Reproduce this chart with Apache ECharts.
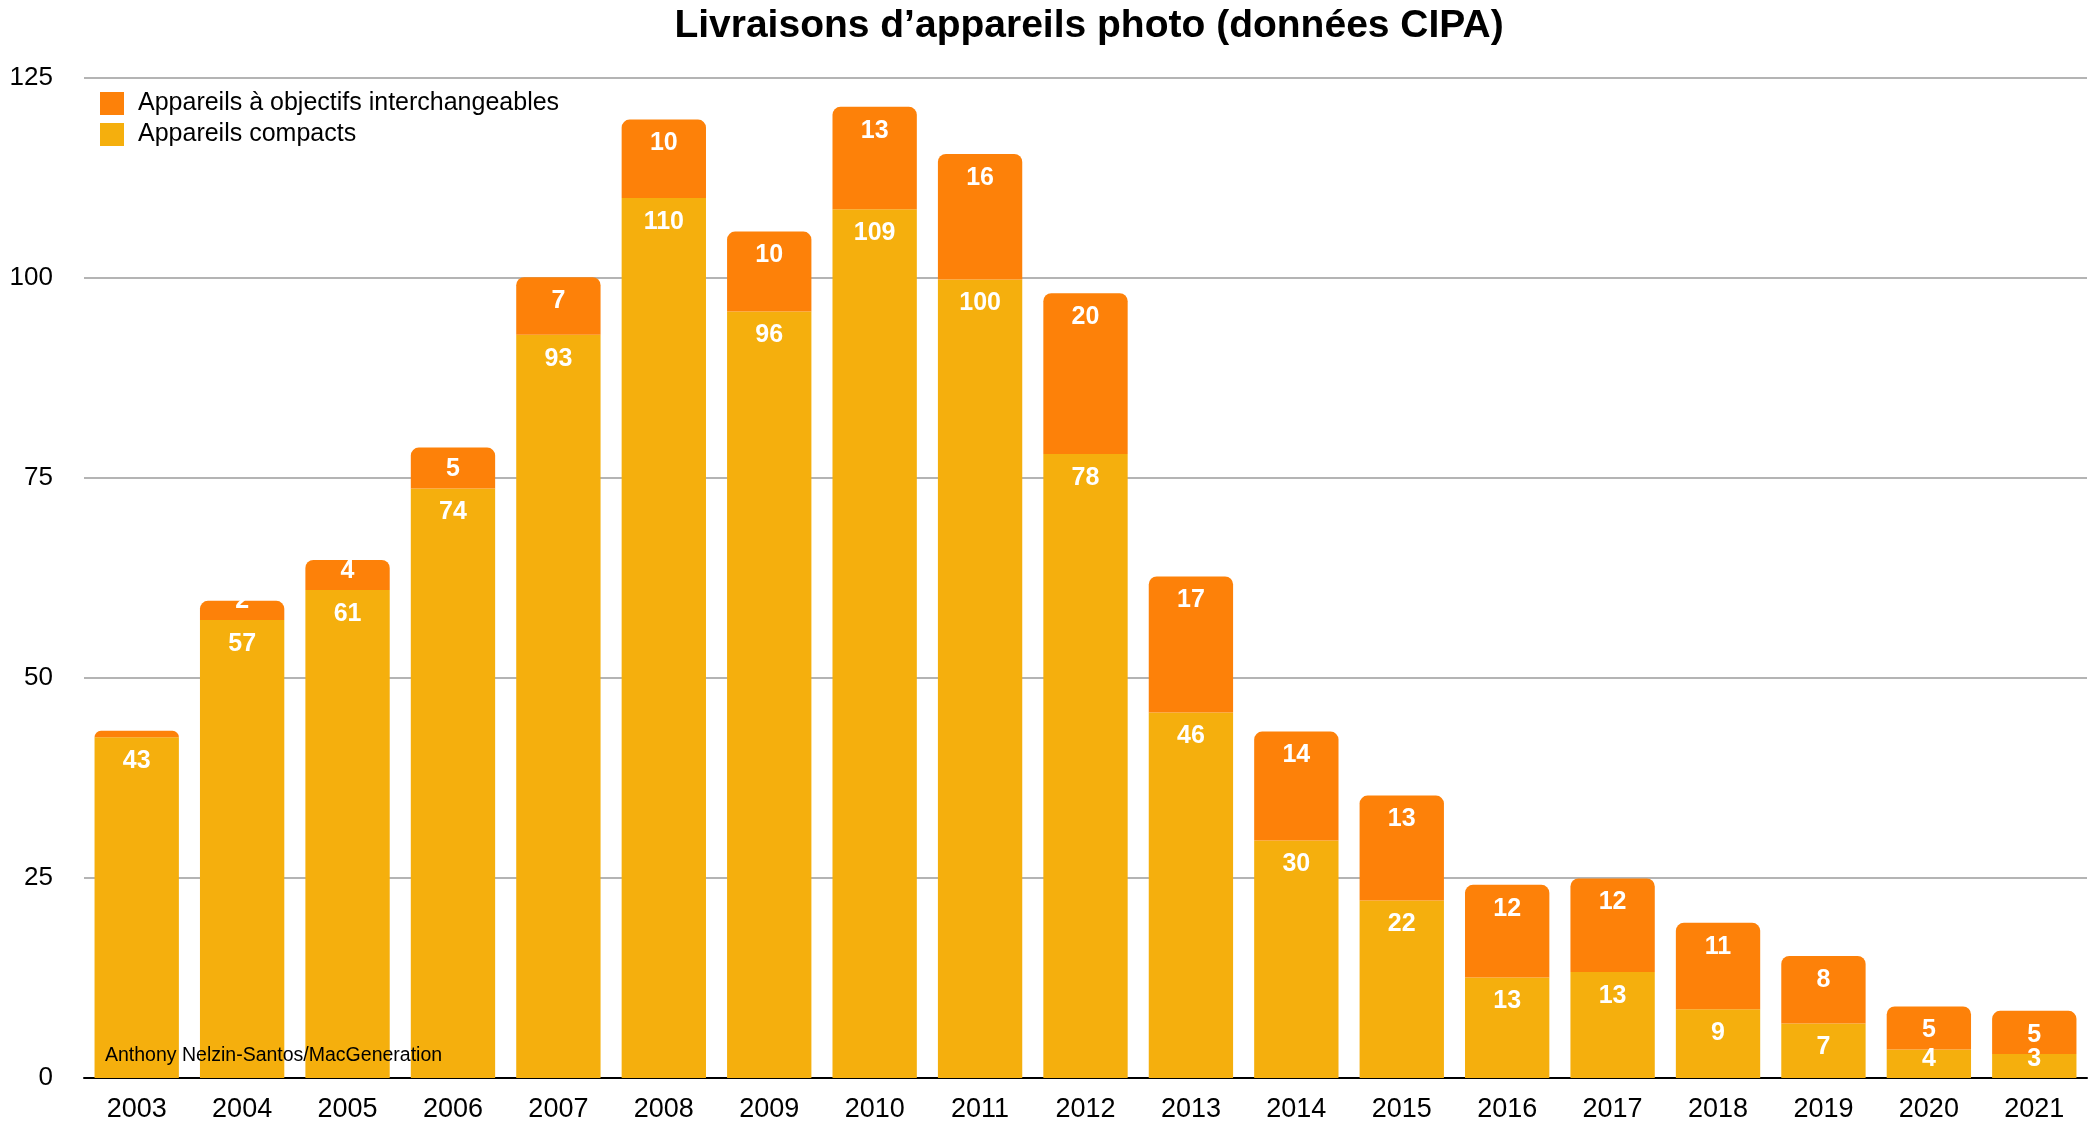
<!DOCTYPE html>
<html>
<head>
<meta charset="utf-8">
<title>Livraisons d'appareils photo</title>
<script src="https://cdn.jsdelivr.net/npm/echarts@6/dist/echarts.min.js"></script>
<style>
  html, body { margin: 0; padding: 0; background: #fff; }
  #chart { width: 2094px; height: 1136px; }
</style>
</head>
<body>
<div id="chart"></div>
<script>
// CIPA shipments, millions of units
const years = ['2003', '2004', '2005', '2006', '2007', '2008', '2009', '2010', '2011', '2012',
  '2013', '2014', '2015', '2016', '2017', '2018', '2019', '2020', '2021'];
const compacts = [42.6, 57.25, 61.0, 73.7, 92.9, 110.0, 95.8, 108.6, 99.8, 78.0,
  45.7, 29.7, 22.2, 12.55, 13.25, 8.6, 6.8, 3.55, 3.0];
const interchangeables = [0.8, 2.4, 3.75, 5.1, 7.2, 9.8, 10.0, 12.8, 15.7, 20.1,
  17.0, 13.6, 13.1, 11.6, 11.7, 10.8, 8.45, 5.4, 5.4];
const yTicks = [0, 25, 50, 75, 100, 125];

const fontFamily = '"Liberation Sans", Arial, Helvetica, sans-serif';
const orange = '#fd8109';
const yellow = '#f5af0d';

var dom = document.getElementById('chart');
var myChart = echarts.init(dom, null, { renderer: 'canvas' });

// label sits 24px under the segment top, but never lower than 19px above its bottom
function placeLabel(params) {
  const r = params.rect;
  return {
    x: r.x + r.width / 2,
    y: Math.min(r.y + 24, r.y + r.height - 19),
    align: 'center',
    verticalAlign: 'middle'
  };
}

const barLabel = {
  show: true,
  position: 'inside',
  color: '#fff',
  fontFamily: fontFamily,
  fontWeight: 'bold',
  fontSize: 25,
  formatter: function (p) { return Math.round(p.value) + ''; }
};

var option = {
  backgroundColor: '#fff',
  animation: false,
  title: {
    text: 'Livraisons d’appareils photo (données CIPA)',
    left: 1084,
    top: 2,
    textAlign: 'center',
    textStyle: {
      fontFamily: fontFamily,
      fontWeight: 'bold',
      fontSize: 39,
      color: '#000'
    }
  },
  legend: {
    data: ['Appareils à objectifs interchangeables', 'Appareils compacts'],
    orient: 'vertical',
    left: 100,
    top: 91,
    padding: 0,
    itemWidth: 24,
    itemHeight: 23,
    itemGap: 6,
    icon: 'rect',
    selectedMode: false,
    textStyle: {
      fontFamily: fontFamily,
      fontSize: 25,
      color: '#000',
      padding: [0, 0, 0, 9]
    }
  },
  grid: {
    left: 84,
    right: 7,
    top: 78,
    bottom: 58
  },
  xAxis: {
    type: 'category',
    data: years,
    axisTick: { show: false },
    axisLine: { lineStyle: { color: '#000', width: 2 } },
    axisLabel: {
      margin: 18,
      color: '#000',
      fontFamily: fontFamily,
      fontSize: 27
    }
  },
  yAxis: {
    type: 'value',
    min: yTicks[0],
    max: yTicks[yTicks.length - 1],
    interval: yTicks[1] - yTicks[0],
    axisLine: { show: false },
    axisTick: { show: false },
    axisLabel: {
      margin: 31,
      color: '#000',
      fontFamily: fontFamily,
      fontSize: 26
    },
    splitLine: { lineStyle: { color: '#b4b4b4', width: 2 } }
  },
  graphic: [
    {
      type: 'text',
      left: 105,
      top: 1046,
      z: 100,
      style: {
        text: 'Anthony Nelzin-Santos/MacGeneration',
        fill: '#000',
        font: '19.5px ' + fontFamily
      }
    }
  ],
  series: [
    {
      name: 'Appareils compacts',
      type: 'bar',
      stack: 'total',
      data: compacts,
      barCategoryGap: '20%',
      itemStyle: { color: yellow },
      label: barLabel,
      labelLayout: placeLabel
    },
    {
      name: 'Appareils à objectifs interchangeables',
      type: 'bar',
      stack: 'total',
      data: interchangeables,
      barCategoryGap: '20%',
      itemStyle: { color: orange, borderRadius: [8, 8, 0, 0] },
      label: barLabel,
      labelLayout: placeLabel
    }
  ]
};

myChart.setOption(option);
window.addEventListener('resize', myChart.resize);
</script>
</body>
</html>
